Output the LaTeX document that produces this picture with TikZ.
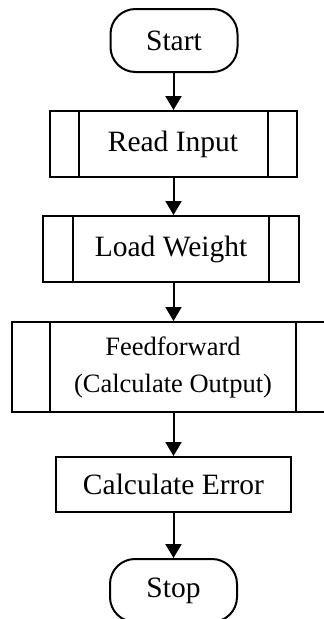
\documentclass[tikz,border=0pt]{standalone}
\usepackage{fontspec}
\setmainfont{Liberation Serif}
\usetikzlibrary{arrows.meta,calc}

\tikzset{
  box/.style={draw, line width=2pt, inner sep=0pt, align=center,
    font=\fontsize{29.5}{34}\selectfont},
  terminal/.style={box, rounded corners=25pt, minimum width=127pt, minimum height=63pt},
  flow/.style={line width=2pt, -{Triangle[length=14pt,width=16pt]}},
  inner/.style={line width=2pt}
}

% subprocess box with two inner vertical bars
\newcommand{\subproc}[5]{%
  \node[box, minimum width=#3, minimum height=#4] (#1) at #2 {#5};
}
\newcommand{\bars}[2]{%
  \draw[inner] ($(#1.north west)+(#2,0)$) -- ($(#1.south west)+(#2,0)$);
  \draw[inner] ($(#1.north east)-(#2,0)$) -- ($(#1.south east)-(#2,0)$);
}

\begin{document}
\begin{tikzpicture}[x=1pt,y=1pt]
\useasboundingbox (0,0) rectangle (324,-619);

\node[terminal] (start) at (174,-40.5) {Start};

\subproc{read}{(173,-144)}{247pt}{66pt}{Read Input}
\bars{read}{30pt}

\subproc{load}{(171,-249)}{256pt}{66pt}{Load Weight}
\bars{load}{31pt}

\node[box, minimum width=322pt, minimum height=90pt,
      font=\fontsize{26.5}{37}\selectfont] (ff) at (173,-367)
      {Feedforward\\(Calculate Output)};
\bars{ff}{39pt}

\node[box, minimum width=235pt, minimum height=55pt] (err) at (173.5,-484.5)
      {Calculate Error};

\node[terminal] (stop) at (173.5,-590.5) {Stop};

\draw[flow] (start.south -| stop.north) -- (stop.north |- read.north);
\draw[flow] (read.south -| stop.north) -- (stop.north |- load.north);
\draw[flow] (load.south -| stop.north) -- (stop.north |- ff.north);
\draw[flow] (ff.south -| stop.north) -- (stop.north |- err.north);
\draw[flow] (err.south -| stop.north) -- (stop.north);
\end{tikzpicture}
\end{document}
